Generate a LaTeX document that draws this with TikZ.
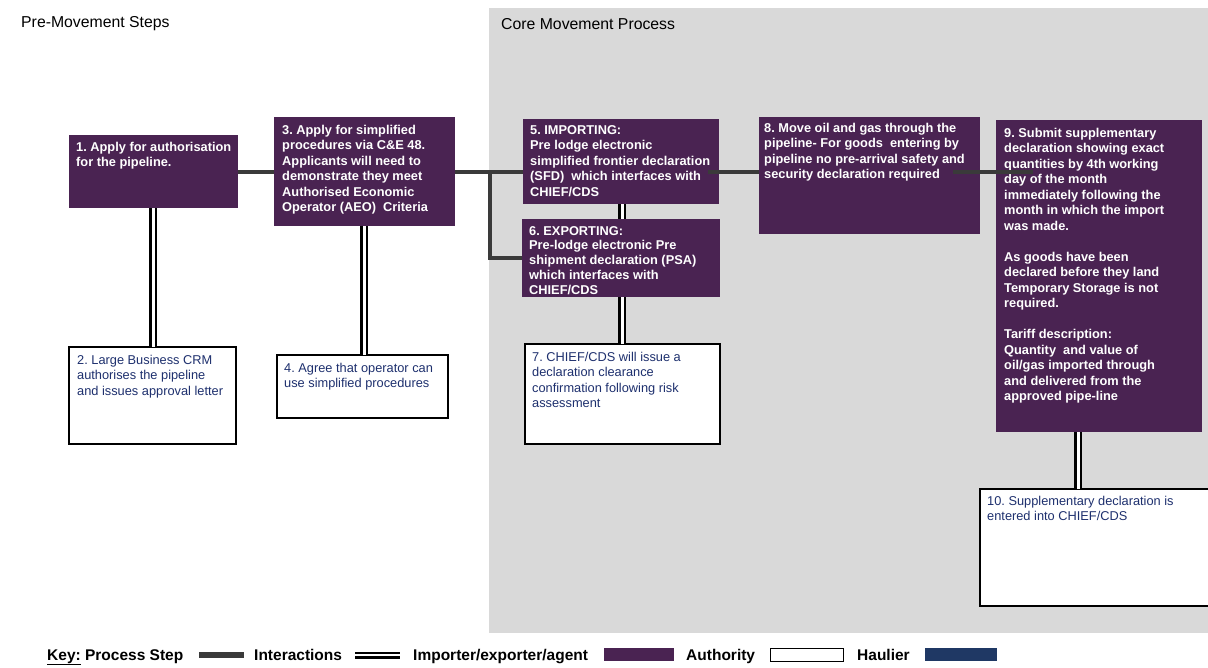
\documentclass[tikz,border=0pt]{standalone}
\usepackage{fontspec}
\setmainfont{Liberation Sans}
\frenchspacing
\definecolor{purp}{RGB}{74,35,82}
\definecolor{bgc}{RGB}{217,217,217}
\definecolor{lnc}{RGB}{58,58,58}
\definecolor{navy}{RGB}{31,56,100}
\definecolor{navytext}{RGB}{30,48,110}
\begin{document}
\frenchspacing
\begin{tikzpicture}[x=1pt,y=-1pt,
  pbox/.style={fill=purp, draw=none, anchor=north west, inner sep=0pt, outer sep=0pt},
  wbox/.style={fill=white, draw=black, line width=1.3pt, anchor=north west, inner sep=0pt, outer sep=0pt},
  ptxt/.style={anchor=north west, align=left, text=white, inner sep=0pt,
    font=\fontsize{12.8}{15.5}\selectfont\bfseries\frenchspacing},
  wtxt/.style={anchor=north west, align=left, text=navytext, inner sep=0pt,
    font=\fontsize{12.8}{15.5}\selectfont\frenchspacing},
  ttl/.style={anchor=base west, inner sep=0pt, font=\fontsize{15.8}{18}\selectfont},
  keyt/.style={anchor=base west, inner sep=0pt, font=\fontsize{15.5}{18}\selectfont\bfseries},
  proc/.style={draw=lnc, line width=4pt, line join=miter},
  dbl/.style={draw=black, line width=2.4pt, double=white, double distance=3pt},
]
\useasboundingbox (0,0) rectangle (1208,667);
\fill[white] (0,0) rectangle (1208,667);
\fill[bgc] (489,8) rectangle (1208,633);

% titles
\node[ttl] (tpre) at (21,27) {Pre-Movement Steps};
\node[ttl] (tcore) at (501,29) {Core Movement Process};

% purple boxes
\node[pbox, minimum width=169pt, minimum height=73pt] (b1) at (69,135) {};
\node[pbox, minimum width=181pt, minimum height=109pt] (b3) at (274,117) {};
\node[pbox, minimum width=196pt, minimum height=85pt] (b5) at (523,119) {};
\node[pbox, minimum width=198pt, minimum height=78pt] (b6) at (522,219) {};
\node[pbox, minimum width=221pt, minimum height=117pt] (b8) at (759,117) {};
\node[pbox, minimum width=206pt, minimum height=312pt] (b9) at (996,120) {};

% white boxes
\node[wbox, minimum width=167pt, minimum height=97pt] (b2) at (69,347) {};
\node[wbox, minimum width=171pt, minimum height=63pt] (b4) at (277,355) {};
\node[wbox, minimum width=195pt, minimum height=100pt] (b7) at (525,344) {};
\node[wbox, minimum width=232pt, minimum height=117pt] (b10) at (980,489) {};

% texts
\node[ptxt] (t1) at ([shift={(7,7)}]b1.north west) {1. Apply for authorisation\\for the pipeline.};
\node[ptxt] (t3) at ([shift={(8,8)}]b3.north west) {3. Apply for simplified\\procedures via C\&E 48.\\Applicants will need to\\demonstrate they meet\\Authorised Economic\\Operator (AEO) ~Criteria};
\node[ptxt] (t5) at ([shift={(7,6)}]b5.north west) {5. IMPORTING:\\Pre lodge electronic\\simplified frontier declaration\\(SFD) ~which interfaces with\\CHIEF/CDS};
\node[ptxt, font=\fontsize{12.8}{14.8}\selectfont\bfseries\frenchspacing] (t6) at ([shift={(7,7)}]b6.north west) {6. EXPORTING:\\Pre-lodge electronic Pre\\shipment declaration (PSA)\\which interfaces with\\CHIEF/CDS};
\node[ptxt] (t8) at ([shift={(5,6)}]b8.north west) {8. Move oil and gas through the\\pipeline- For goods ~entering by\\pipeline no pre-arrival safety and\\security declaration required};
\node[ptxt] (t9) at ([shift={(8,8)}]b9.north west) {9. Submit supplementary\\declaration showing exact\\quantities by 4th working\\day of the month\\immediately following the\\month in which the import\\was made.\\[15.5pt]As goods have been\\declared before they land\\Temporary Storage is not\\required.\\[15.5pt]Tariff description:\\Quantity ~and value of\\oil/gas imported through\\and delivered from the\\approved pipe-line};

\node[wtxt] (t2) at ([shift={(8,8)}]b2.north west) {2. Large Business CRM\\authorises the pipeline\\and issues approval letter};
\node[wtxt] (t4) at ([shift={(7,8)}]b4.north west) {4. Agree that operator can\\use simplified procedures};
\node[wtxt] (t7) at ([shift={(7,8)}]b7.north west) {7. CHIEF/CDS will issue a\\declaration clearance\\confirmation following risk\\assessment};
\node[wtxt] (t10) at ([shift={(7,7)}]b10.north west) {10. Supplementary declaration is\\entered into CHIEF/CDS};

% process-step lines
\coordinate (ml) at (0,172);
\coordinate (br) at (490,172);
\coordinate (p5) at ([xshift=-11pt]b5.east);
\coordinate (p8) at ([xshift=-27pt]b8.east);
\coordinate (p9) at ([xshift=37pt]b9.west);
\draw[proc] (b1.east |- ml) -- (b3.west |- ml);
\draw[proc] (b3.east |- ml) -- (b5.west |- ml);
\draw[proc] (br) |- (b6.west);
\draw[proc] (p5 |- ml) -- (b8.west |- ml);
\draw[proc] (p8 |- ml) -- (p9 |- ml);

% interaction double lines
\coordinate (x1) at (153,0);
\coordinate (x3) at (364,0);
\coordinate (x5) at (622,0);
\coordinate (x9) at (1078,0);
\draw[dbl] (b1.south -| x1) -- (b2.north -| x1);
\draw[dbl] (b3.south -| x3) -- (b4.north -| x3);
\draw[dbl] (b5.south -| x5) -- (b6.north -| x5);
\draw[dbl] (b6.south -| x5) -- (b7.north -| x5);
\draw[dbl] (b9.south -| x9) -- (b10.north -| x9);

% key
\node[keyt] (k1) at (47,660) {\underline{Key:} Process Step};
\coordinate (ka) at (199,655);
\coordinate (kb) at (244,655);
\draw[draw=lnc, line width=6pt] (ka) -- (kb);
\node[keyt] (k2) at (254,660) {Interactions};
\coordinate (kc) at (355,655);
\coordinate (kd) at (400,655);
\draw[draw=black, line width=2.3pt, double=white, double distance=2.4pt] (kc) -- (kd);
\node[keyt] (k3) at (413,660) {Importer/exporter/agent};
\node[fill=purp, anchor=north west, inner sep=0pt, minimum width=70pt, minimum height=13pt] (kp) at (604,648) {};
\node[keyt] (k4) at (686,660) {Authority};
\node[fill=white, draw=black, line width=1pt, anchor=north west, inner sep=0pt, minimum width=73pt, minimum height=13pt] (kw) at (770,648) {};
\node[keyt] (k5) at (857,660) {Haulier};
\node[fill=navy, anchor=north west, inner sep=0pt, minimum width=72pt, minimum height=13pt] (kn) at (925,648) {};
\end{tikzpicture}
\end{document}
